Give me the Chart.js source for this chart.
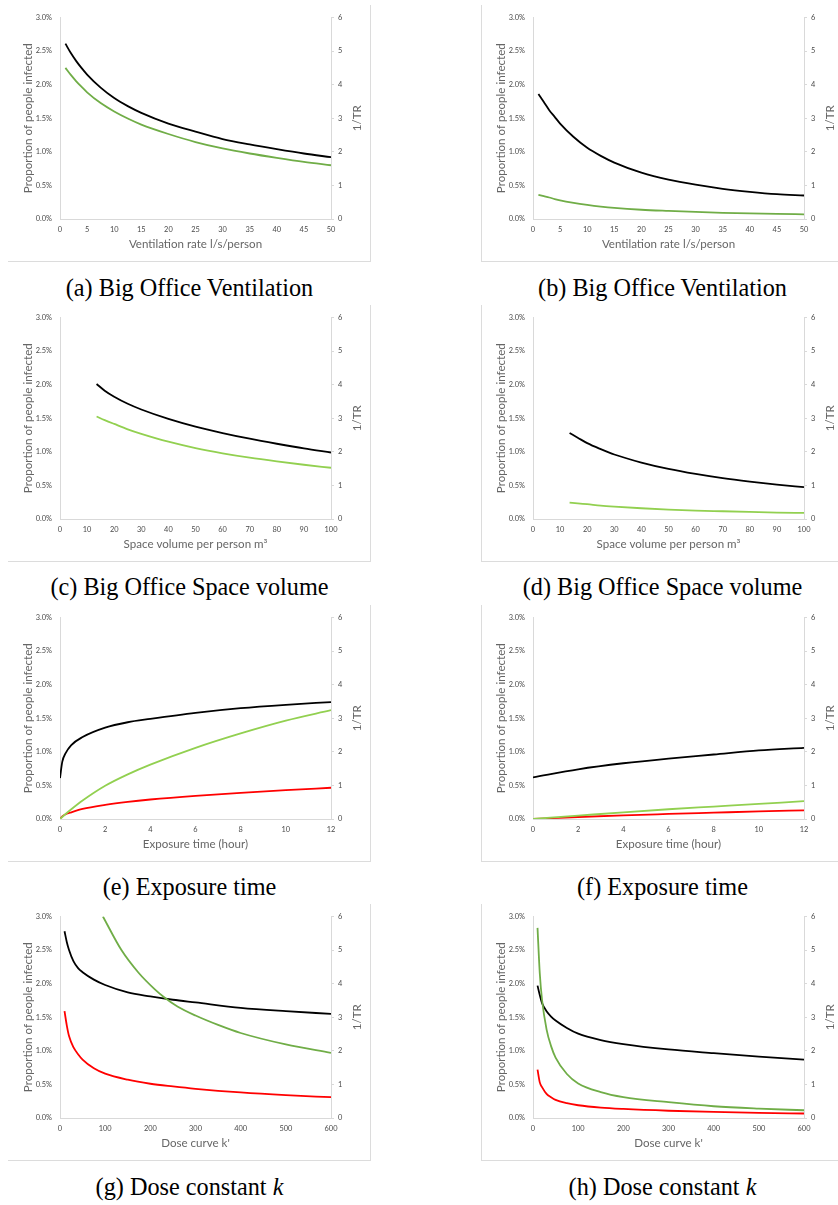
<!DOCTYPE html>
<html>
<head>
<meta charset="utf-8">
<script src="https://cdn.jsdelivr.net/npm/chart.js@4.4.1/dist/chart.umd.min.js"></script>
<style>
html,body{margin:0;padding:0;background:#fff;}
body{width:838px;height:1205px;position:relative;overflow:hidden;}
.frame{position:absolute;width:363px;height:257px;box-sizing:border-box;}
.frame.l{border-right:1px solid #dcdcdc;border-bottom:1px solid #dcdcdc;}
.frame.r{border-left:1px solid #dcdcdc;border-bottom:1px solid #dcdcdc;}
.holder{position:absolute;width:363px;height:257px;}
.holder canvas{position:absolute;left:0;top:0;}
.cap{position:absolute;width:363px;text-align:center;font-family:"Liberation Serif",serif;color:#000;white-space:nowrap;}
</style>
</head>
<body>
<script>
// ---------------- DATA ----------------
// Left axis: proportion of people infected (%), right axis: 1/TR
const ventX  = [1, 2, 3, 4, 5, 7.5, 10, 12.5, 15, 20, 25, 30, 35, 40, 45, 50];
const aBlack = [2.61, 2.47, 2.35, 2.245, 2.15, 1.955, 1.80, 1.68, 1.58, 1.42, 1.30, 1.19, 1.11, 1.04, 0.975, 0.92];
const aGreen = [4.50, 4.29, 4.10, 3.93, 3.77, 3.45, 3.20, 2.99, 2.81, 2.53, 2.29, 2.10, 1.95, 1.82, 1.70, 1.60];
const bBlack = [1.86, 1.74, 1.62, 1.52, 1.42, 1.22, 1.06, 0.94, 0.84, 0.69, 0.585, 0.51, 0.45, 0.405, 0.37, 0.35];
const bGreen = [0.72, 0.68, 0.64, 0.595, 0.555, 0.48, 0.42, 0.37, 0.33, 0.275, 0.24, 0.21, 0.185, 0.165, 0.15, 0.14];

const volX   = [13.5, 16.5, 20, 25, 30, 40, 50, 60, 70, 80, 90, 100];
const cBlack = [2.01, 1.91, 1.82, 1.715, 1.63, 1.49, 1.375, 1.28, 1.195, 1.12, 1.05, 0.99];
const cGreen = [3.05, 2.945, 2.83, 2.67, 2.535, 2.30, 2.11, 1.955, 1.825, 1.715, 1.615, 1.525];
const dBlack = [1.28, 1.21, 1.13, 1.04, 0.96, 0.84, 0.745, 0.67, 0.607, 0.556, 0.512, 0.475];
const dGreen = [0.49, 0.465, 0.44, 0.40, 0.37, 0.32, 0.28, 0.25, 0.23, 0.21, 0.19, 0.18];

const timeXe = [0, 0.1, 0.25, 0.5, 1, 2, 3, 4, 6, 8, 10, 12];
const eBlack = [0.61, 0.85, 0.98, 1.10, 1.22, 1.36, 1.44, 1.49, 1.58, 1.65, 1.70, 1.74];
const eGreen = [0, 0.06, 0.15, 0.29, 0.55, 0.99, 1.33, 1.62, 2.12, 2.55, 2.93, 3.24];
const eRed   = [0, 0.04, 0.07, 0.10, 0.15, 0.21, 0.255, 0.29, 0.345, 0.39, 0.43, 0.465];

const timeXf = [0, 2, 4, 6, 8, 10, 12];
const fBlack = [0.62, 0.74, 0.83, 0.90, 0.96, 1.02, 1.06];
const fGreen = [0, 0.10, 0.20, 0.29, 0.37, 0.45, 0.53];
const fRed   = [0, 0.03, 0.055, 0.075, 0.094, 0.113, 0.128];

const doseXg      = [10, 15, 20, 30, 40, 50, 75, 100, 150, 200, 250, 300, 400, 500, 600];
const gBlack      = [2.78, 2.62, 2.50, 2.33, 2.23, 2.17, 2.06, 1.98, 1.87, 1.81, 1.76, 1.72, 1.64, 1.59, 1.55];
const gRed        = [1.59, 1.38, 1.22, 1.05, 0.95, 0.87, 0.74, 0.66, 0.57, 0.51, 0.47, 0.435, 0.38, 0.34, 0.31];
const doseXgGreen = [95, 136, 173, 210, 232, 260, 300, 350, 400, 500, 600];
const gGreen      = [6.0, 5.0, 4.34, 3.83, 3.58, 3.32, 3.05, 2.77, 2.53, 2.19, 1.94];

const doseXh = [10, 15, 20, 30, 40, 50, 75, 100, 150, 200, 300, 400, 500, 600];
const hBlack = [1.97, 1.83, 1.71, 1.59, 1.51, 1.45, 1.34, 1.255, 1.16, 1.10, 1.02, 0.965, 0.915, 0.87];
const hGreen = [5.66, 4.31, 3.52, 2.64, 2.14, 1.80, 1.31, 1.03, 0.77, 0.62, 0.47, 0.35, 0.28, 0.23];
const hRed   = [0.72, 0.53, 0.46, 0.36, 0.31, 0.27, 0.22, 0.19, 0.155, 0.135, 0.108, 0.09, 0.077, 0.067];

// axis ranges / tick steps
const pctAxis  = [0, 3, 0.5];   // min, max, step (%)
const trAxis   = [0, 6, 1];     // min, max, step (1/TR)
const ventAxis = [0, 50, 5];
const volAxis  = [0, 100, 10];
const timeAxis = [0, 12, 2];
const doseAxis = [0, 600, 100];

// texts
const leftTitle  = 'Proportion of people infected';
const rightTitle = '1/TR';
const xTitleVent = 'Ventilation rate l/s/person';
const xTitleVol  = 'Space volume per person m\u00B3';
const xTitleTime = 'Exposure time (hour)';
const xTitleDose = "Dose curve k'";
const captions = [
  '(a) Big Office Ventilation', '(b) Big Office Ventilation',
  '(c) Big Office Space volume', '(d) Big Office Space volume',
  '(e) Exposure time', '(f) Exposure time',
  '(g) Dose constant <i>k</i>', '(h) Dose constant <i>k</i>'
];

// ---------------- STYLE ----------------
const BLACK = '#000000', GREEN_D = '#70ad47', GREEN_L = '#92d050', RED = '#ff0000';
const AXIS_COL = '#d9d9d9', TICK_COL = '#4a4a4a', TITLE_COL = '#666666';
const SANS = 'Lato';

function fitSize(text, family, target) {
  const c = document.createElement('canvas').getContext('2d');
  c.font = '100px ' + family;
  return 100 * target / c.measureText(text).width;
}
const titleSize = fitSize(leftTitle, SANS, 150);
const tickSize  = fitSize('3.0%', SANS, 16.3);
const capSize   = fitSize('(a) Big Office Ventilation', '"Liberation Serif"', 248);

const W = 363, H = 257;
const colX = [8, 481];
const rowY = [5, 305, 605, 904];
const capBase = [296, 595, 895, 1195];

const panels = [
  {xs: ventAxis, xt: xTitleVent, s: [[ventX, aGreen, GREEN_D, 'yR'], [ventX, aBlack, BLACK, 'yL']]},
  {xs: ventAxis, xt: xTitleVent, s: [[ventX, bGreen, GREEN_D, 'yR'], [ventX, bBlack, BLACK, 'yL']]},
  {xs: volAxis,  xt: xTitleVol,  s: [[volX, cGreen, GREEN_L, 'yR'], [volX, cBlack, BLACK, 'yL']]},
  {xs: volAxis,  xt: xTitleVol,  s: [[volX, dGreen, GREEN_L, 'yR'], [volX, dBlack, BLACK, 'yL']]},
  {xs: timeAxis, xt: xTitleTime, s: [[timeXe, eGreen, GREEN_L, 'yR'], [timeXe, eRed, RED, 'yL'], [timeXe, eBlack, BLACK, 'yL']]},
  {xs: timeAxis, xt: xTitleTime, s: [[timeXf, fGreen, GREEN_L, 'yR'], [timeXf, fRed, RED, 'yL'], [timeXf, fBlack, BLACK, 'yL']]},
  {xs: doseAxis, xt: xTitleDose, s: [[doseXgGreen, gGreen, GREEN_D, 'yR'], [doseXg, gRed, RED, 'yL'], [doseXg, gBlack, BLACK, 'yL']]},
  {xs: doseAxis, xt: xTitleDose, s: [[doseXh, hGreen, GREEN_D, 'yR'], [doseXh, hRed, RED, 'yL'], [doseXh, hBlack, BLACK, 'yL']]}
];

const rightTitlePlugin = {
  id: 'rightTitle',
  afterDraw(chart) {
    const s = chart.scales.yR, ctx = chart.ctx;
    ctx.save();
    ctx.font = titleSize + 'px ' + SANS;
    ctx.fillStyle = TITLE_COL;
    ctx.textAlign = 'center';
    ctx.textBaseline = 'middle';
    ctx.translate(s.right - 13.7, (s.top + s.bottom) / 2);
    ctx.rotate(-Math.PI / 2);
    ctx.fillText(rightTitle, 0, 0);
    ctx.restore();
  }
};

panels.forEach((p, i) => {
  const col = i % 2, row = Math.floor(i / 2);
  const fr = document.createElement('div');
  fr.className = 'frame ' + (col === 0 ? 'l' : 'r');
  fr.style.left = colX[col] + 'px'; fr.style.top = rowY[row] + 'px';
  document.body.appendChild(fr);

  const hold = document.createElement('div');
  hold.className = 'holder';
  hold.style.left = colX[col] + 'px'; hold.style.top = rowY[row] + 'px';
  const cv = document.createElement('canvas');
  cv.width = W; cv.height = H;
  cv.style.width = W + 'px'; cv.style.height = H + 'px';
  hold.appendChild(cv);
  document.body.appendChild(hold);

  const cap = document.createElement('div');
  cap.className = 'cap';
  cap.style.fontSize = capSize + 'px';
  cap.style.lineHeight = capSize + 'px';
  cap.style.left = colX[col] + 'px';
  cap.style.top = (capBase[row] - 0.8375 * capSize) + 'px';
  cap.innerHTML = captions[i];
  document.body.appendChild(cap);

  const datasets = p.s.map(([xs, ys, color, axis]) => ({
    data: xs.map((x, k) => ({x: x, y: ys[k]})),
    borderColor: color,
    backgroundColor: color,
    borderWidth: 1.8,
    pointRadius: 0,
    fill: false,
    cubicInterpolationMode: 'monotone',
    yAxisID: axis
  }));

  const tickFont = {family: SANS, size: tickSize, weight: 'normal'};
  const titleFont = {family: SANS, size: titleSize, lineHeight: 1.2};

  new Chart(cv, {
    type: 'line',
    data: {datasets},
    options: {
      responsive: false,
      animation: false,
      devicePixelRatio: 1,
      layout: {padding: {top: 10, left: 0, right: 0, bottom: 0}},
      plugins: {legend: {display: false}, tooltip: {enabled: false}},
      scales: {
        x: {
          type: 'linear', position: 'bottom',
          min: p.xs[0], max: p.xs[1],
          ticks: {stepSize: p.xs[2], color: TICK_COL, font: tickFont, padding: 6, maxRotation: 0, autoSkip: false},
          grid: {display: false, drawTicks: false},
          border: {display: true, color: AXIS_COL, width: 1},
          title: {display: true, text: p.xt, color: TITLE_COL, font: titleFont,
                  padding: {top: 0, bottom: 17.7 - 0.6 * titleSize}},
          afterFit: s => { s.height = 43; }
        },
        yL: {
          type: 'linear', position: 'left',
          min: pctAxis[0], max: pctAxis[1],
          ticks: {stepSize: pctAxis[2], color: TICK_COL, font: tickFont, padding: 8,
                  callback: v => v.toFixed(1) + '%'},
          grid: {display: false, drawTicks: false},
          border: {display: true, color: AXIS_COL, width: 1},
          title: {display: true, text: leftTitle, color: TITLE_COL, font: titleFont,
                  padding: {top: 20 - 0.6 * titleSize, bottom: 0}},
          afterFit: s => { s.width = 52; }
        },
        yR: {
          type: 'linear', position: 'right',
          min: trAxis[0], max: trAxis[1],
          ticks: {stepSize: trAxis[2], color: TICK_COL, font: tickFont, padding: 4},
          grid: {display: true, drawOnChartArea: false, drawTicks: true, tickLength: 3, color: AXIS_COL},
          border: {display: true, color: AXIS_COL, width: 1},
          title: {display: false},
          afterFit: s => { s.width = 40; }
        }
      }
    },
    plugins: [rightTitlePlugin]
  });
});
</script>
</body>
</html>
